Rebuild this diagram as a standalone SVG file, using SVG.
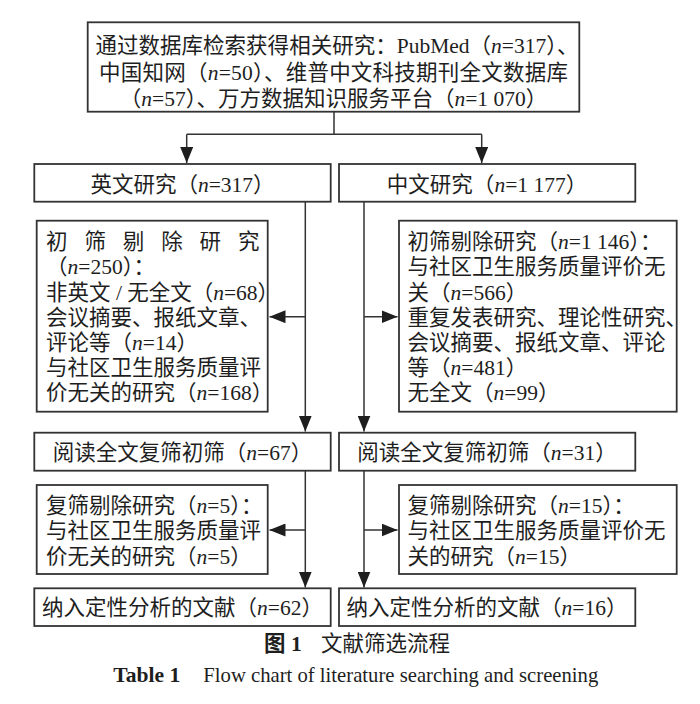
<svg xmlns="http://www.w3.org/2000/svg" width="700" height="704" viewBox="0 0 700 704">
<style>
.bg{fill:#ffffff}
.box{fill:#ffffff;stroke:#333333;stroke-width:1.8}
.ln{fill:none;stroke:#333333;stroke-width:1.5}
.t{font-family:"Liberation Serif","Noto Sans CJK SC",serif;font-size:21.5px;fill:#1e1e1e}
.m{text-anchor:middle}
.i{font-style:italic}
.b{font-weight:bold}
</style>
<defs>
<marker id="ah" markerUnits="userSpaceOnUse" markerWidth="16" markerHeight="13" refX="16" refY="6.5" orient="auto">
<path d="M0,0 L16,6.5 L0,13 Z" fill="#1e1e1e"/>
</marker>
</defs>
<rect class="bg" x="0" y="0" width="700" height="704"/>

<g id="connectors">
<path class="ln" d="M334,111.7 V134.3 M186.7,134.3 H481.7"/>
<path class="ln" d="M186.7,134.3 V163" marker-end="url(#ah)"/>
<path class="ln" d="M481.7,134.3 V163" marker-end="url(#ah)"/>
<path class="ln" d="M305.3,201.7 V431.5" marker-end="url(#ah)"/>
<path class="ln" d="M305.3,316.7 H269.5" marker-end="url(#ah)"/>
<path class="ln" d="M364,201.7 V431.5" marker-end="url(#ah)"/>
<path class="ln" d="M364,316.7 H397.5" marker-end="url(#ah)"/>
<path class="ln" d="M305.3,470.7 V587.5" marker-end="url(#ah)"/>
<path class="ln" d="M305.3,530 H269.5" marker-end="url(#ah)"/>
<path class="ln" d="M364,470.7 V587.5" marker-end="url(#ah)"/>
<path class="ln" d="M364,530 H397.5" marker-end="url(#ah)"/>
</g>

<g id="search">
<rect class="box" x="87.7" y="22.3" width="491.6" height="89.4"/>
<text class="t" x="95.5" y="53" textLength="483" lengthAdjust="spacing">通过数据库检索获得相关研究：PubMed（<tspan class="i">n</tspan>=317）、</text>
<text class="t" x="99" y="79.5" textLength="469" lengthAdjust="spacing">中国知网（<tspan class="i">n</tspan>=50）、维普中文科技期刊全文数据库</text>
<text class="t m" x="333.5" y="106">（<tspan class="i">n</tspan>=57）、万方数据知识服务平台（<tspan class="i">n</tspan>=1 070）</text>
</g>

<g id="english">
<rect class="box" x="34.3" y="164" width="296.4" height="37.7"/>
<text class="t m" x="182.5" y="191.5">英文研究（<tspan class="i">n</tspan>=317）</text>
</g>

<g id="chinese">
<rect class="box" x="339" y="164" width="296.3" height="37.7"/>
<text class="t m" x="487" y="191.5">中文研究（<tspan class="i">n</tspan>=1 177）</text>
</g>

<g id="exclude-en-1">
<rect class="box" x="36.7" y="220.7" width="231" height="191"/>
<text class="t" x="46" y="249.2" textLength="213.5" lengthAdjust="spacing">初筛剔除研究</text>
<text class="t" x="46" y="274.4">（<tspan class="i">n</tspan>=250）：</text>
<text class="t" x="46" y="299.5">非英文 / 无全文（<tspan class="i">n</tspan>=68）</text>
<text class="t" x="46" y="324.7">会议摘要、报纸文章、</text>
<text class="t" x="46" y="349.9">评论等（<tspan class="i">n</tspan>=14）</text>
<text class="t" x="46" y="375">与社区卫生服务质量评</text>
<text class="t" x="46" y="400.2">价无关的研究（<tspan class="i">n</tspan>=168）</text>
</g>

<g id="exclude-zh-1">
<rect class="box" x="399" y="220.7" width="277.7" height="191"/>
<text class="t" x="407.5" y="249.2">初筛剔除研究（<tspan class="i">n</tspan>=1 146）：</text>
<text class="t" x="407.5" y="274.4">与社区卫生服务质量评价无</text>
<text class="t" x="407.5" y="299.5">关（<tspan class="i">n</tspan>=566）</text>
<text class="t" x="407.5" y="324.7">重复发表研究、理论性研究、</text>
<text class="t" x="407.5" y="349.9">会议摘要、报纸文章、评论</text>
<text class="t" x="407.5" y="375">等（<tspan class="i">n</tspan>=481）</text>
<text class="t" x="407.5" y="400.2">无全文（<tspan class="i">n</tspan>=99）</text>
</g>

<g id="fulltext-en">
<rect class="box" x="34.3" y="432.7" width="296.4" height="38"/>
<text class="t m" x="182.5" y="459.7">阅读全文复筛初筛（<tspan class="i">n</tspan>=67）</text>
</g>

<g id="fulltext-zh">
<rect class="box" x="339" y="432.7" width="296.3" height="38"/>
<text class="t m" x="487" y="459.7">阅读全文复筛初筛（<tspan class="i">n</tspan>=31）</text>
</g>

<g id="exclude-en-2">
<rect class="box" x="36.7" y="485" width="231" height="89"/>
<text class="t" x="46" y="512.5">复筛剔除研究（<tspan class="i">n</tspan>=5）：</text>
<text class="t" x="46" y="538">与社区卫生服务质量评</text>
<text class="t" x="46" y="563.5">价无关的研究（<tspan class="i">n</tspan>=5）</text>
</g>

<g id="exclude-zh-2">
<rect class="box" x="399" y="485" width="277.7" height="89"/>
<text class="t" x="407.5" y="512.5">复筛剔除研究（<tspan class="i">n</tspan>=15）：</text>
<text class="t" x="407.5" y="538">与社区卫生服务质量评价无</text>
<text class="t" x="407.5" y="563.5">关的研究（<tspan class="i">n</tspan>=15）</text>
</g>

<g id="included-en">
<rect class="box" x="34.3" y="588.3" width="296.4" height="37.7"/>
<text class="t m" x="182.5" y="615">纳入定性分析的文献（<tspan class="i">n</tspan>=62）</text>
</g>

<g id="included-zh">
<rect class="box" x="339" y="588.3" width="296.3" height="37.7"/>
<text class="t m" x="487" y="615">纳入定性分析的文献（<tspan class="i">n</tspan>=16）</text>
</g>

<g id="caption">
<text class="t" y="651"><tspan class="b" x="264">图</tspan><tspan class="b" x="291">1</tspan><tspan x="321">文献筛选流程</tspan></text>
<text class="t b" x="113.3" y="681.5" style="font-size:22px" textLength="67" lengthAdjust="spacingAndGlyphs">Table 1</text>
<text class="t" x="203.3" y="681.5" style="font-size:22px" textLength="395" lengthAdjust="spacingAndGlyphs">Flow chart of literature searching and screening</text>
</g>
</svg>
